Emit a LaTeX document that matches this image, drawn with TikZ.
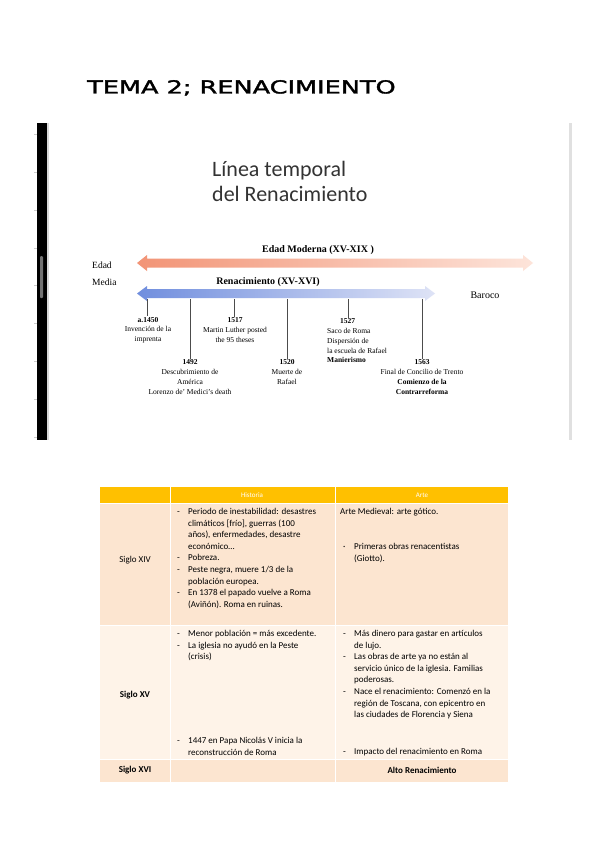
\documentclass[tikz,border=0pt]{standalone}
\usepackage{fontspec}
\setmainfont{Liberation Serif}
\newfontfamily\calibri{Carlito}
\newfontfamily\titlefont[FakeBold=1.6]{DejaVu Sans}
\definecolor{modernaL}{RGB}{242,148,118}
\definecolor{modernaR}{RGB}{253,228,218}
\definecolor{renacL}{RGB}{112,142,222}
\definecolor{renacR}{RGB}{222,227,246}
\definecolor{gold}{RGB}{255,192,0}
\definecolor{peach}{RGB}{252,229,208}
\definecolor{peachlight}{RGB}{254,243,232}
\newcommand\tbul{\makebox[11pt][l]{-}}
\newcommand\tdot{\makebox[11pt][l]{·}}
\newcommand\tind{\hspace*{11pt}}
\begin{document}
\begin{tikzpicture}[x=1pt,y=-1pt]
    \tikzset{
        year/.style={font=\fontsize{7.5}{9.8}\selectfont, align=center, inner sep=0pt},
        tick/.style={draw=black!70, line width=0.8pt},
        era/.style={font=\bfseries\fontsize{10}{12}\selectfont, inner sep=0pt},
        cell/.style={font=\calibri\fontsize{9}{11.6}\selectfont, align=left, inner sep=0pt, anchor=north west},
        head/.style={font=\calibri\fontsize{7}{8}\selectfont, text=white, inner sep=0pt},
        rowname/.style={font=\calibri\fontsize{9}{11}\selectfont, inner sep=0pt}
    }
    \useasboundingbox (0,0) rectangle (599,848);
    \fill[white] (0,0) rectangle (599,848);

    \node[anchor=base west, inner sep=0pt] (tema) at (87,93.5)
        {\titlefont\fontsize{18}{20}\selectfont\scalebox{1.42}[1]{TEMA 2; RENACIMIENTO}};

    % screenshot frame
    \fill[black] (37,123) rectangle (47,440);
    \fill[black!15] (47,123) rectangle (49,440);
    \fill[black!55, rounded corners=1pt] (40,256) rectangle (43,298);
    \fill[black!12] (569,123) rectangle (572,440);
    \foreach \y in {134,172,210,248,285,323,361,399,437}{
        \draw[black!20, line width=0.5pt] (34,\y) -- (37,\y);
    }

    \node[anchor=base west, inner sep=0pt, align=left, text=black!80, font=\calibri\fontsize{22}{25}\selectfont] (titulo) at (212,201)
        {Línea temporal\\del Renacimiento};

    % arrows
    \shade[left color=modernaL, right color=modernaR]
        (137,263) -- (147,255) -- (147,258.5) -- (523,258.5) -- (523,255) -- (533,263)
        -- (523,271) -- (523,267.5) -- (147,267.5) -- (147,271) -- cycle;
    \shade[left color=renacL, right color=renacR]
        (137,293.5) -- (147,286) -- (147,289) -- (425,289) -- (425,286) -- (435,293.5)
        -- (425,301) -- (425,298) -- (147,298) -- (147,301) -- cycle;

    \node[era] (moderna) at (318,250) {Edad Moderna (XV-XIX )};
    \node[era] (renac) at (268,282) {Renacimiento (XV-XVI)};
    \node[anchor=west, align=left, inner sep=0pt, font=\fontsize{9.5}{17}\selectfont] (media) at (92,273.5) {Edad\\Media};
    \node[inner sep=0pt, font=\fontsize{10}{12}\selectfont] (baroco) at (485,295) {Baroco};

    % events
    \coordinate (t1) at (147,299);
    \coordinate (t2) at (190,299);
    \coordinate (t3) at (234,299);
    \coordinate (t4) at (287,299);
    \coordinate (t5) at (348,299);
    \coordinate (t6) at (422,299);
    \node[year, anchor=north] (e1450) at (148,317) {\textbf{a.1450}\\Invención de la\\imprenta};
    \node[year, anchor=north] (e1492) at (190,359.5) {\textbf{1492}\\Descubrimiento de\\América\\Lorenzo de' Medici's death};
    \node[year, anchor=north] (e1517) at (235,317.5) {\textbf{1517}\\Martin Luther posted\\the 95 theses};
    \node[year, anchor=north] (e1520) at (287,359.5) {\textbf{1520}\\Muerte de\\Rafael};
    \node[year, anchor=north west, align=left] (e1527) at (327,318.5) {\hspace*{13pt}\textbf{1527}\\Saco de Roma\\Dispersión de\\la escuela de Rafael\\\textbf{Manierismo}};
    \node[year, anchor=north] (e1563) at (422,359.5) {\textbf{1563}\\Final de Concilio de Trento\\\textbf{Comienzo de la}\\\textbf{Contrarreforma}};
    \foreach \t/\n in {t1/e1450, t2/e1492, t3/e1517, t4/e1520, t5/e1527, t6/e1563}{
        \draw[tick] (\t) -- ([yshift=1pt]\t |- \n.north);
    }

    % table
    \fill[gold] (100,487) rectangle (508,503);
    \fill[peach] (100,503) rectangle (508,625);
    \fill[peachlight] (100,625) rectangle (508,759);
    \fill[peach] (100,759) rectangle (508,782);
    \draw[white, line width=1pt] (170,487) -- (170,782) (335,487) -- (335,782);
    \draw[white, line width=1pt] (100,503) -- (508,503) (100,625) -- (508,625) (100,759) -- (508,759);

    \node[head] (historia) at (252,495) {Historia};
    \node[head] (arte) at (422,495) {Arte};

    \node[rowname] (s14) at (135,560) {Siglo XIV};
    \node[rowname, font=\calibri\bfseries\fontsize{9}{11}\selectfont] (s15) at (135,695) {Siglo XV};
    \node[rowname, font=\calibri\bfseries\fontsize{9}{11}\selectfont] (s16) at (135,770) {Siglo XVI};
    \node[rowname, font=\calibri\bfseries\fontsize{9}{11}\selectfont] (alto) at (422,770) {Alto Renacimiento};

    \node[cell] (h14) at (177,508) {\tbul Periodo de inestabilidad: desastres\\\tind climáticos [frío], guerras (100\\\tind años), enfermedades, desastre\\\tind económico…\\\tbul Pobreza.\\\tbul Peste negra, muere 1/3 de la\\\tind población europea.\\\tbul En 1378 el papado vuelve a Roma\\\tind (Aviñón). Roma en ruinas.};
    \node[cell] (a14) at (340,508) {Arte Medieval: arte gótico.};
    \node[cell] (a14b) at (343,543) {\tdot Primeras obras renacentistas\\\tind (Giotto).};
    \node[cell] (h15) at (177,630) {\tbul Menor población = más excedente.\\\tbul La iglesia no ayudó en la Peste\\\tind (crisis)};
    \node[cell] (h15b) at (177,737) {\tbul 1447 en Papa Nicolás V inicia la\\\tind reconstrucción de Roma};
    \node[cell] (a15) at (343,630) {\tbul Más dinero para gastar en artículos\\\tind de lujo.\\\tbul Las obras de arte ya no están al\\\tind servicio único de la iglesia. Familias\\\tind poderosas.\\\tbul Nace el renacimiento: Comenzó en la\\\tind región de Toscana, con epicentro en\\\tind las ciudades de Florencia y Siena};
    \node[cell] (a15b) at (343,748) {\tbul Impacto del renacimiento en Roma};
\end{tikzpicture}
\end{document}
